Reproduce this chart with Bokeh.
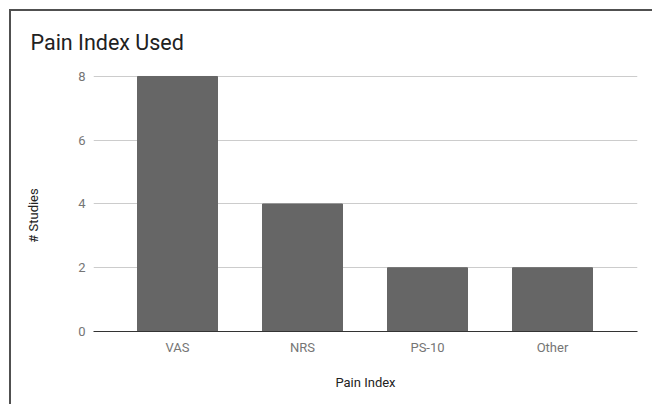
from bokeh.plotting import figure
from bokeh.models import ColumnDataSource, FixedTicker, Range1d
from bokeh.embed import file_html
from bokeh.resources import INLINE

categories = ["VAS", "NRS", "PS-10", "Other"]
studies = [8, 4, 2, 2]
y_ticks = [0, 2, 4, 6, 8]

xs = list(range(len(categories)))
src = ColumnDataSource(dict(x=xs, top=studies))

FONT = "Roboto"
NBSP = "\u00a0"

p = figure(width=643, height=395, output_backend="svg", toolbar_location=None,
           x_range=Range1d(-0.672, 3.68), y_range=Range1d(0, 8.188),
           min_border_left=82, min_border_right=17, min_border_top=59, min_border_bottom=75)
p.margin = (11, 0, 0, 11)
p.styles = {"box-shadow": "-2px -2px 0px 0px #505050", "overflow": "hidden"}

p.vbar(x="x", top="top", width=0.64, bottom=0, source=src,
       fill_color="#666666", line_color="#666666")

p.title.text = "Pain Index Used"
p.title.text_font = FONT
p.title.text_font_size = "21.5px"
p.title.text_font_style = "normal"
p.title.text_color = "#212121"
p.title.align = "left"
p.title.offset = -63
p.title.standoff = 32

p.outline_line_color = None
p.background_fill_color = "white"
p.border_fill_color = "white"

p.xgrid.grid_line_color = None
p.ygrid.grid_line_color = "#cccccc"
p.ygrid.ticker = FixedTicker(ticks=y_ticks)

p.xaxis.ticker = FixedTicker(ticks=xs)
p.xaxis.major_label_overrides = {i: c for i, c in enumerate(categories)}
p.xaxis.axis_label = "Pain Index"
p.xaxis.axis_label_standoff = 17
p.xaxis.major_label_standoff = 2
p.xaxis.axis_line_color = "#333333"
p.xaxis.major_tick_line_color = None
p.xaxis.minor_tick_line_color = None

p.yaxis.ticker = FixedTicker(ticks=y_ticks)
p.yaxis.axis_label = "# Studies" + NBSP * 9
p.yaxis.axis_label_standoff = 34
p.yaxis.axis_line_color = None
p.yaxis.major_tick_line_color = None
p.yaxis.minor_tick_line_color = None
p.yaxis.major_label_standoff = 2

for ax in (p.xaxis, p.yaxis):
    ax.major_label_text_font = FONT
    ax.major_label_text_font_size = "13px"
    ax.major_label_text_color = "#757575"
    ax.axis_label_text_font = FONT
    ax.axis_label_text_font_size = "13px"
    ax.axis_label_text_font_style = "normal"
    ax.axis_label_text_color = "#222222"

open("out.html", "w").write(file_html(p, INLINE))
